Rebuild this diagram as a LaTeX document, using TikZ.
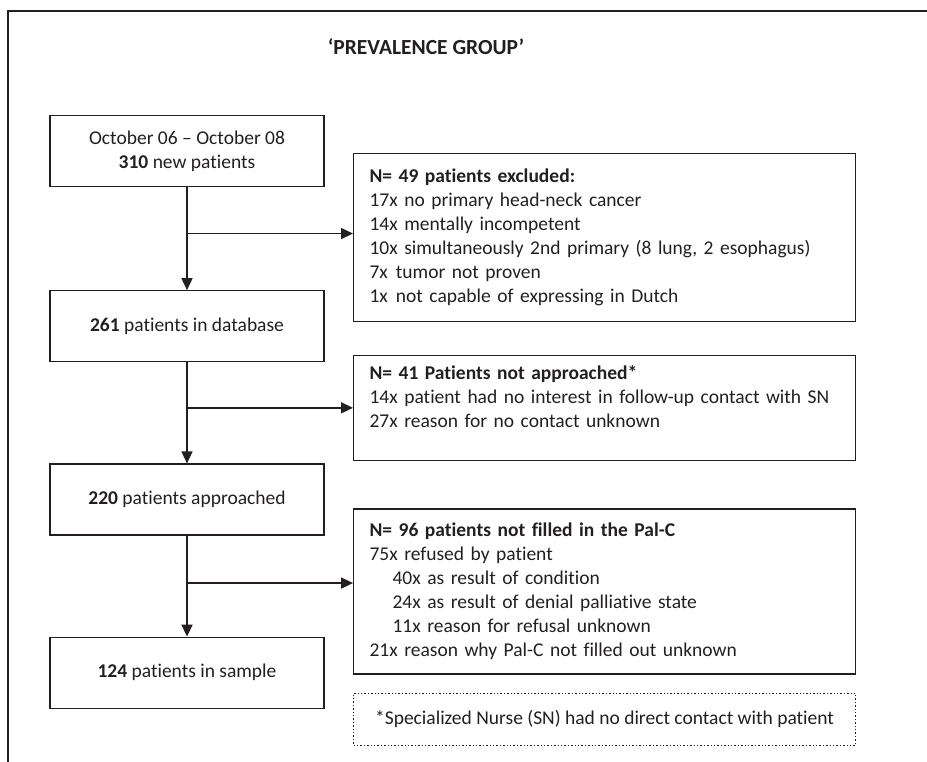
\documentclass[tikz,border=0pt]{standalone}
\usepackage{fontspec}
\setmainfont{Carlito}[Ligatures=NoCommon]
\usepackage{xcolor}
\definecolor{inkgray}{RGB}{35, 31, 32}
\usepackage{tikz}
\usetikzlibrary{
    arrows.meta,
    positioning,
    calc
}
\tikzstyle{arrow} = [
    -{Triangle[length=12pt,width=11pt]},
    line width=1.6pt,
    draw=inkgray
]

\begin{document}
\begin{tikzpicture}[
    x=1pt, y=1pt,
    font=\fontsize{19.5}{24}\selectfont,
    text=inkgray,
    mainbox/.style={rectangle, draw=inkgray, line width=1.2pt, minimum width=274pt, minimum height=71pt, inner sep=0pt, align=center},
    exclbox/.style={rectangle, draw=inkgray, line width=1.2pt, text width=470pt, inner xsep=16pt, inner ysep=0pt, align=left},
    notebox/.style={rectangle, draw=inkgray, dotted, line width=1.4pt, minimum width=502pt, minimum height=52pt},
    heading/.style={font=\fontsize{21.5}{26}\selectfont\bfseries}
]
    \useasboundingbox (0,0) rectangle (927,762);

    % Frame
    \draw[line width=1.5pt, draw=inkgray] (8,0) -- (8,751) -- (927,751);

    % Title
    \node[heading] (title) at (426,715) {‘PREVALENCE GROUP’};

    % Main flow
    \node[mainbox, anchor=north] (new) at (187,647) {October 06 -- October 08\\\textbf{310} new patients};
    \node[mainbox, below=103pt of new] (database) {\textbf{261} patients in database};
    \node[mainbox, below=101pt of database] (approached) {\textbf{220} patients approached};
    \node[mainbox, below=101pt of approached] (sample) {\textbf{124} patients in sample};

    % Excluded boxes
    \node[exclbox, anchor=north west, minimum height=168pt] (excluded) at (353,609) {\textbf{N= 49 patients excluded:}\\
        17x no primary head-neck cancer\\
        14x mentally incompetent\\
        10x simultaneously 2nd primary (8 lung, 2 esophagus)\\
        7x\hspace{8pt}tumor not proven\\
        1x\hspace{8pt}not capable of expressing in Dutch};
    \node[exclbox, below=33pt of excluded, minimum height=105pt] (notapproached) {\textbf{N= 41 Patients not approached*}\\
        14x patient had no interest in follow-up contact with SN\\
        27x reason for no contact unknown\\ \mbox{}};
    \node[exclbox, below=47pt of notapproached, minimum height=165pt] (notfilled) {\textbf{N= 96 patients not filled in the Pal-C}\\
        75x refused by patient\\
        \hspace*{23pt}40x as result of condition\\
        \hspace*{23pt}24x as result of denial palliative state\\
        \hspace*{23pt}11x reason for refusal unknown\\
        21x reason why Pal-C not filled out unknown};

    % Footnote
    \node[notebox, below=18pt of notfilled] (footnote) {*Specialized Nurse (SN) had no direct contact with patient};

    % Arrows
    \coordinate (b1) at ($(new.south)!0.45!(database.north)$);
    \coordinate (b2) at ($(database.south)!0.45!(approached.north)$);
    \coordinate (b3) at ($(approached.south)!0.47!(sample.north)$);
    \draw[arrow] (new) -- (database);
    \draw[arrow] (database) -- (approached);
    \draw[arrow] (approached) -- (sample);
    \draw[arrow] (b1) -- (b1 -| excluded.west);
    \draw[arrow] (b2) -- (b2 -| notapproached.west);
    \draw[arrow] (b3) -- (b3 -| notfilled.west);

\end{tikzpicture}
\end{document}
